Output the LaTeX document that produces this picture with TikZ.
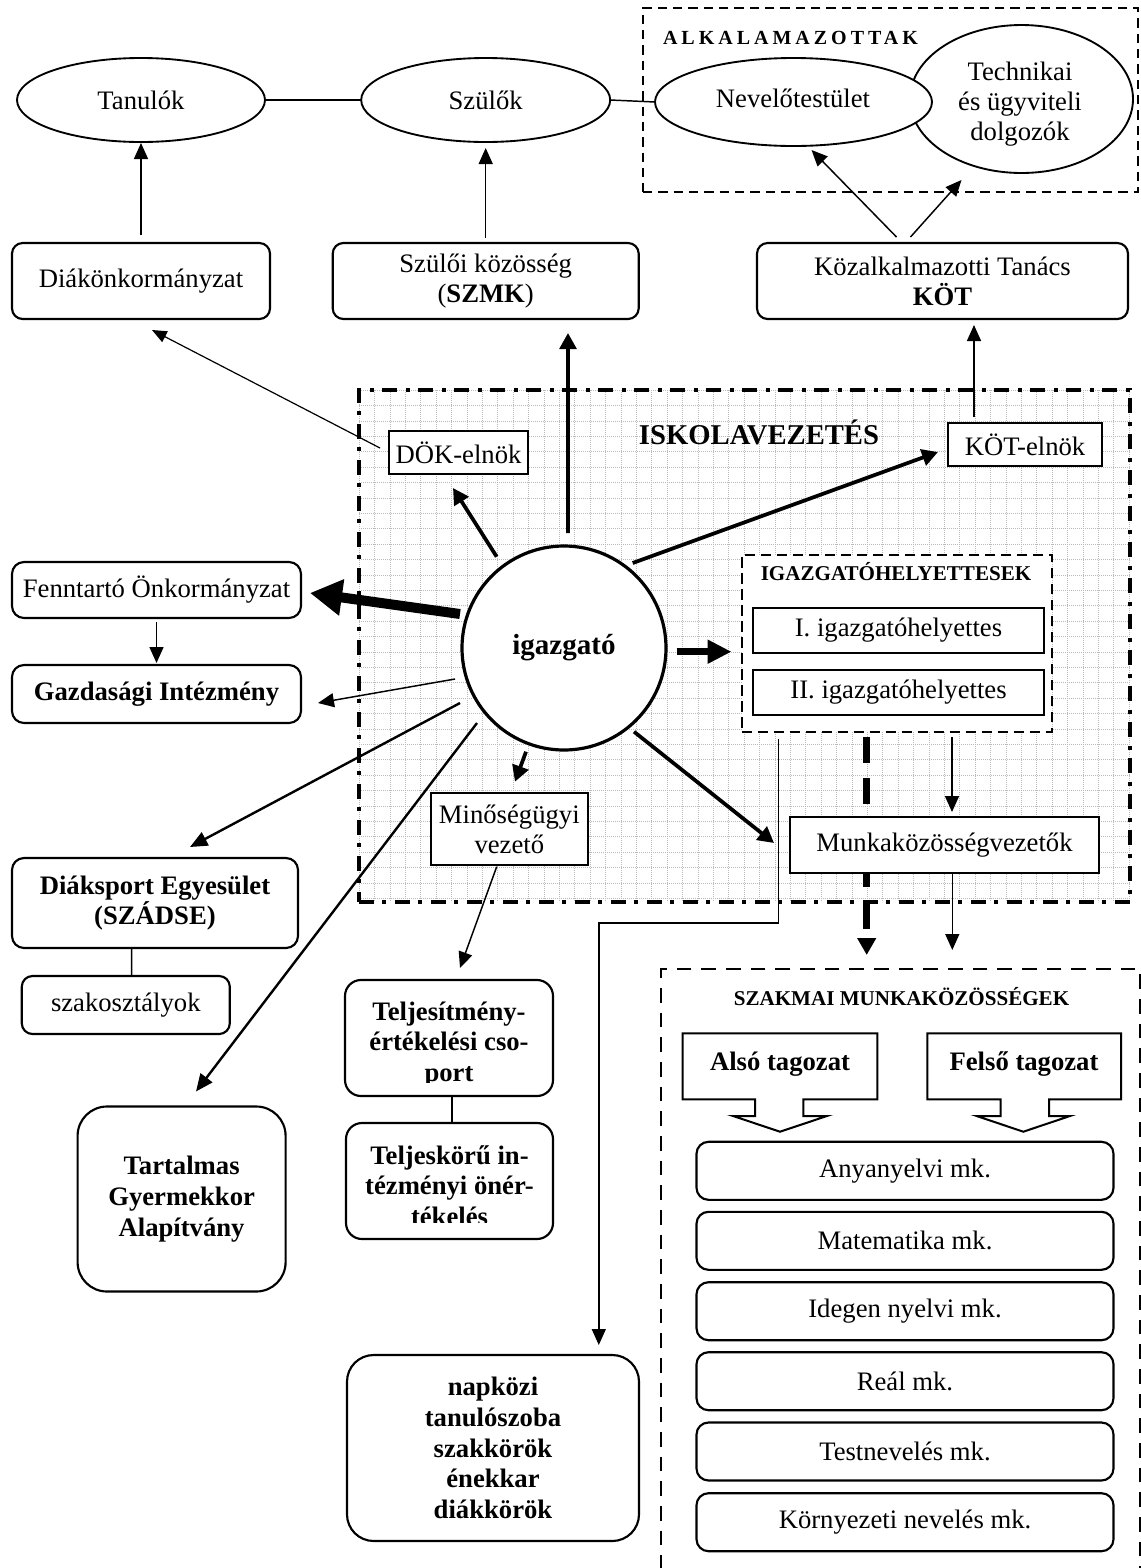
\documentclass[tikz,border=0pt]{standalone}
\usepackage{fontspec}
\setmainfont{Liberation Serif}
\newfontfamily\spacedfont{Liberation Serif}[LetterSpace=20]
\usetikzlibrary{arrows.meta,shapes.geometric,calc}
\pgfdeclarelayer{back}
\pgfdeclarelayer{mid}
\pgfsetlayers{back,mid,main}
\newcommand{\fsN}{\fontsize{20}{22.5}\selectfont}
\newcommand{\fsB}{\fontsize{20}{23}\selectfont\bfseries}
\begin{document}
\begin{tikzpicture}[x=0.75pt,y=-0.75pt,
 every node/.style={inner sep=0pt, outer sep=0pt},
 wh/.style 2 args={minimum width=#1*0.75pt, minimum height=#2*0.75pt},
 nt/.style={font=\fsN, align=center},
 bt/.style={font=\fsB, align=center},
 rbox/.style={draw, line width=1.6pt, rounded corners=8pt, fill=white},
 sbox/.style={draw, line width=1.5pt, fill=white},
 ell/.style={draw, ellipse, line width=1.4pt, fill=white},
 cline/.style={line width=1.1pt},
 arrA/.style={line width=1.1pt, -{Triangle[length=12pt,width=10.5pt]}},
 arrB/.style={line width=1.8pt, -{Triangle[length=13pt,width=11pt]}},
 arrC/.style={line width=2.8pt, -{Triangle[length=12pt,width=12.5pt]}},
 arrD/.style={line width=5pt, -{Triangle[length=18pt,width=17pt]}},
 arrE/.style={line width=7.5pt, -{Triangle[length=24pt,width=26pt]}},
 arrF/.style={line width=4.9pt, dash pattern=on 19.5pt off 11.6pt, -{Triangle[length=12.75pt,width=13.5pt]}},
 gridln/.style={gray!55, line width=0.45pt, dash pattern=on 0.6pt off 0.9pt},
 dashbox/.style={draw, line width=1.5pt, dash pattern=on 7pt off 4.5pt},
 callout/.style={draw, line width=1.5pt, fill=white, line join=miter},
]
\useasboundingbox (0,0) rectangle (1141,1568);
\begin{pgfonlayer}{back}
\fill[white] (0,0) rectangle (1141,1568);
\begin{scope}
\clip (359,390) rectangle (1130,902);
\foreach \i in {0,...,50} \draw[gridln] ({359+15.4*\i},390) -- ({359+15.4*\i},902);
\foreach \j in {0,...,33} \draw[gridln] (359,{390+15.4*\j}) -- (1130,{390+15.4*\j});
\end{scope}
\node[draw, wh={771}{512}, line width=3pt, dash pattern=on 11.25pt off 6pt on 3pt off 6.75pt] (isk) at (744.5,646) {};
\node[dashbox, wh={495}{184}] (alk) at (890.5,100) {};
\node[draw, line width=2.2pt, dash pattern=on 11pt off 7.5pt, wh={479}{651}] (szak) at (900.5,1294.5) {};
\end{pgfonlayer}

% top row
\node[ell, wh={248}{84}, nt] (tan) at (141,100) {Tanulók};
\node[ell, wh={249}{84}, nt] (szul) at (485.7,100) {Szülők};
\node[ell, wh={223}{148}] (tech) at (1021.5,99) {};
\node[nt] (techtxt) at (1020,104) {Technikai\\és ügyviteli\\dolgozók};
\node[ell, wh={277}{88}] (nev) at (793.5,102) {};
\node[nt] (nevtxt) at (793,98) {Nevelőtestület};
\node[font=\spacedfont\fontsize{15}{17}\selectfont\bfseries, anchor=base west] (alktxt) at (663,44.3) {ALKALAMAZOTTAK};

\node[rbox, wh={258}{76}, nt] (diak) at (141,281) {Diákönkormányzat};
\node[rbox, wh={306}{76}, nt] (szk) at (485.7,281) {Szülői közösség\\(\textbf{SZMK})};
\node[rbox, wh={371}{76}, nt] (kot) at (942.5,281) {Közalkalmazotti Tanács\\\textbf{KÖT}};

% school management
\node[font=\fontsize{21.5}{24}\selectfont\bfseries, anchor=base] (isktxt) at (759,444) {ISKOLAVEZETÉS};
\node[sbox, wh={139}{43}, nt] (dok) at (458.5,452.5) {DÖK-elnök};
\node[sbox, wh={154}{43}, nt] (kotel) at (1025,444.5) {KÖT-elnök};
\node[circle, draw, fill=white, line width=2.4pt, minimum size=204*0.75pt, font=\fontsize{21.8}{24}\selectfont\bfseries] (igaz) at (564,648) {igazgató};
\node[dashbox, fill=white, wh={310.5}{176.7}, dash pattern=on 8pt off 4pt] (ighbox) at (896.75,643.35) {};
\node[font=\fontsize{15.8}{18}\selectfont\bfseries, anchor=base] (ightxt) at (896,580) {IGAZGATÓHELYETTESEK};
\node[sbox, wh={291}{45}, nt] (igh1) at (898.5,630.5) {I. igazgatóhelyettes};
\node[sbox, wh={291}{45}, nt] (igh2) at (898.5,692.5) {II. igazgatóhelyettes};
\node[sbox, wh={157}{72}, nt] (minos) at (509.3,829) {Minőségügyi\\vezető};
\node[sbox, wh={309}{56}, nt] (munka) at (944.5,845) {Munkaközösségvezetők};

% left column
\node[rbox, rounded corners=9pt, wh={289}{56}, nt] (fenn) at (156.5,590) {Fenntartó Önkormányzat};
\node[rbox, rounded corners=9pt, wh={289}{58}, bt] (gazd) at (156.5,694) {Gazdasági Intézmény};
\node[rbox, rounded corners=9pt, wh={286}{90}, bt] (diaksp) at (155,903) {Diáksport Egyesület\\(SZÁDSE)};
\node[rbox, wh={208}{58}, nt] (szako) at (125.8,1005) {szakosztályok};
\node[rbox, rounded corners=22pt, wh={208}{185}, bt] (tartal) at (181.6,1199) {Tartalmas\\Gyermekkor\\Alapítvány};

% evaluation boxes
\node[rbox, rounded corners=12pt, wh={208}{116}] (telj1) at (449,1038) {};
\node[rbox, rounded corners=12pt, wh={207}{116}] (telj2) at (449.5,1181) {};
\begin{scope}
\clip (345,980) rectangle (553,1082);
\node[bt, anchor=base] (t1a) at (449,1020) {Teljesítmény-};
\node[bt, anchor=base] (t1b) at (449,1050.5) {értékelési cso-};
\node[bt, anchor=base] (t1c) at (449,1081) {port};
\end{scope}
\begin{scope}
\clip (345,1123) rectangle (553,1222);
\node[bt, anchor=base] (t2a) at (449.5,1164) {Teljeskörű in-};
\node[bt, anchor=base] (t2b) at (449.5,1194.5) {tézményi önér-};
\node[bt, anchor=base] (t2c) at (449.5,1225) {tékelés};
\end{scope}
\node[rbox, rounded corners=20pt, wh={292}{186}, bt] (napk) at (493,1448) {napközi\\tanulószoba\\szakkörök\\énekkar\\diákkörök};

% professional communities
\node[font=\fontsize{15.8}{18}\selectfont\bfseries, anchor=base] (szaktxt) at (901.5,1005) {SZAKMAI MUNKAKÖZÖSSÉGEK};
\draw[callout] (682.7,1033.3) -- (877.3,1033.3) -- (877.3,1099.3) -- (803.3,1099.3) -- (803.3,1116) -- (827,1116) -- (780,1131.7) -- (733,1116) -- (755,1116) -- (755,1099.3) -- (682.7,1099.3) -- cycle;
\draw[callout] (927.3,1033.3) -- (1121,1033.3) -- (1121,1099.3) -- (1049,1099.3) -- (1049,1116) -- (1070,1116) -- (1023.3,1131.7) -- (976.7,1116) -- (1000.7,1116) -- (1000.7,1099.3) -- (927.3,1099.3) -- cycle;
\node[bt, anchor=base] (also) at (780,1070) {Alsó tagozat};
\node[bt, anchor=base] (felso) at (1024,1070) {Felső tagozat};
\foreach \yy/\tt [count=\k] in {1170.8/Anyanyelvi mk., 1240.8/Matematika mk., 1311.2/Idegen nyelvi mk., 1381.2/Reál mk., 1451.5/Testnevelés mk., 1522.2/Környezeti nevelés mk.}
  \node[rbox, rounded corners=9pt, wh={417}{58}, nt] (mk\k) at (905,\yy) {\tt};

% connectors
\begin{pgfonlayer}{mid}
\draw[cline] (tan.east) -- (szul.west);
\draw[cline] (szul.east) -- (nev.west);
\draw[arrA] ($(diak.north)+(0,-8)$) -- ($(tan.south)+(0,1)$);
\draw[arrA] ($(szk.north)+(0,-5)$) -- ($(szul.south)+(0,6)$);
\draw[arrA] ($(kot.north)+(-46,-6)$) -- ($(nev.south)+(18,4)$);
\draw[arrA] ($(kot.north)+(-32,-6)$) -- ($(tech.south)+(-60,7)$);
\draw[arrA] ($(kotel.north)+(-51,-6)$) -- ($(kot.south)+(31.5,6)$);
\draw[arrC] ($(igaz)+(4,-115)$) -- ($(szk.south)+(82.3,14)$);
\draw[arrC] ($(igaz)+(-67.3,-91.3)$) -- ($(dok.south)+(-5.5,14)$);
\draw[line width=0.9pt, -{Triangle[length=11pt,width=9pt]}] ($(dok.west)+(-9,-4.5)$) -- ($(diak.south)+(11,11)$);
\draw[arrC] ($(igaz)+(68.7,-85)$) -- ($(kotel.west)+(-10,7.5)$);
\draw[arrE] ($(igaz)+(-104,-34)$) -- ($(fenn.east)+(9,3)$);
\draw[arrA] ($(fenn.south)+(0,4)$) -- ($(gazd.north)+(0,-2)$);
\draw[arrA] ($(igaz)+(-109,31)$) -- ($(gazd.east)+(17,9)$);
\draw[arrB] ($(igaz)+(-104,55)$) -- ($(diaksp.north)+(35,-11)$);
\draw[arrB] ($(igaz)+(-87,75)$) -- ($(tartal.north)+(14.4,-15)$);
\draw[arrC] ($(igaz)+(-38,103.7)$) -- ($(minos.north)+(5.7,-11.3)$);
\draw[arrA] ($(minos.south)+(-12.6,1.7)$) -- ($(telj1.north)+(11,-12)$);
\draw[cline] ($(telj1.south)+(2.8,0)$) -- ($(telj2.north)+(2.3,0)$);
\draw[arrC] ($(igaz)+(70,83.7)$) -- ($(munka.west)+(-16,-2)$);
\draw[arrD] ($(igaz)+(112.7,3.7)$) -- ($(ighbox.west)+(-10,8.35)$);
\draw[arrA] ($(ighbox.south)+(55.25,5.3)$) -- ($(munka.north)+(7.5,-5)$);
\draw[arrF] ($(ighbox.south)+(-30.05,5.3)$) -- ($(szak.north)+(-33.8,-14)$);
\draw[arrA] ($(ighbox.south)+(-118.25,7.3)$) -- ++(0,184) -| ($(napk.north)+(105.8,-10)$);
\draw[arrA] ($(munka.south)+(7.8,0)$) -- ($(szak.north)+(51.8,-19)$);
\draw[cline] ($(diaksp.south)+(-23.3,0)$) -- ($(szako.north)+(5.9,0)$);
\end{pgfonlayer}
\end{tikzpicture}
\end{document}
